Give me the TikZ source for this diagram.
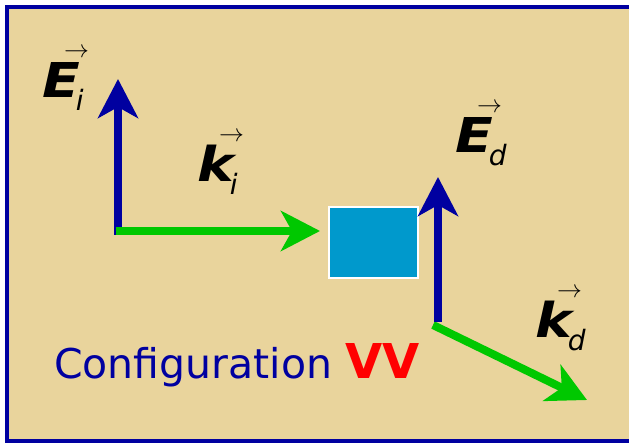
\documentclass[tikz,border=0pt]{standalone}
\usepackage{amsmath}
\usepackage{graphicx}
\usepackage{fontspec}
\setmainfont{DejaVu Sans}
\usepackage{tikz}
\usetikzlibrary{arrows.meta,positioning}
\definecolor{papyrus}{RGB}{233,212,156}
\definecolor{fieldblue}{RGB}{0,0,160}
\definecolor{wavegreen}{RGB}{0,200,0}
\definecolor{targetblue}{RGB}{0,153,204}
\tikzset{
	frame/.style={draw=fieldblue,line width=4pt,fill=papyrus},
	efield/.style={draw=fieldblue,line width=8pt,-{Stealth[length=39pt,width=40pt,inset=11pt]}},
	kvec/.style={draw=wavegreen,line width=8pt,-{Stealth[length=39pt,width=40pt,inset=11pt]}},
	target/.style={draw=white,line width=1.5pt,fill=targetblue,minimum width=89pt,minimum height=71pt,inner sep=0pt},
	lbl/.style={font=\fontsize{48}{48}\selectfont,inner sep=0pt,anchor=base west}
}
% bold italic letter, thin arrow on top, lowered italic index
\newcommand{\vlabel}[2]{%
	\rlap{\raisebox{40pt}{\hspace{22pt}\fontsize{24}{24}\selectfont$\rightarrow$}}%
	\scalebox{1.15}[1]{\bfseries\itshape #1}\kern-4pt\raisebox{-13pt}{\fontsize{28}{28}\selectfont\itshape #2}}
\begin{document}
\begin{tikzpicture}[x=1pt,y=-1pt]
	
	% -------------------------------------------------
	% 1. Background and frame
	% -------------------------------------------------
	\useasboundingbox (0,0) rectangle (629,443);
	\path[frame] (7,7) rectangle (633,441);
	
	% -------------------------------------------------
	% 2. Incident field and wave vector
	% -------------------------------------------------
	\coordinate (Oi) at (118,231);
	\coordinate (Ei) at (118,79);
	\coordinate (ki) at (320,231);
	\draw[efield] ([yshift=-4pt]Oi) -- (Ei);
	\draw[kvec] ([xshift=-2pt]Oi) -- (ki);
	\node[lbl] (Eilab) at (42,98) {\vlabel{E}{i}};
	\node[lbl] (kilab) at (197,182) {\vlabel{k}{i}};
	
	% -------------------------------------------------
	% 3. Target
	% -------------------------------------------------
	\node[target] (obj) at (373.5,242.5) {};
	
	% -------------------------------------------------
	% 4. Scattered field and wave vector
	% -------------------------------------------------
	\coordinate (Od) at (438,322);
	\coordinate (Ed) at (438,177);
	\coordinate (kd) at (587,400);
	\draw[kvec] ([xshift=-5pt,yshift=-3pt]Od) -- (kd);
	\draw[efield] (Od) -- (Ed);
	\node[lbl] (Edlab) at (455,153) {\vlabel{E}{d}};
	\node[lbl] (kdlab) at (535,338) {\vlabel{k}{d}};
	
	% -------------------------------------------------
	% 5. Caption
	% -------------------------------------------------
	\node[anchor=base west,inner sep=0pt,font=\fontsize{41}{41}\selectfont] (cap) at (54,378)
	{\textcolor{fieldblue}{Configuration} \textcolor{red}{\fontsize{48}{48}\selectfont\bfseries VV}};
	
\end{tikzpicture}
\end{document}
